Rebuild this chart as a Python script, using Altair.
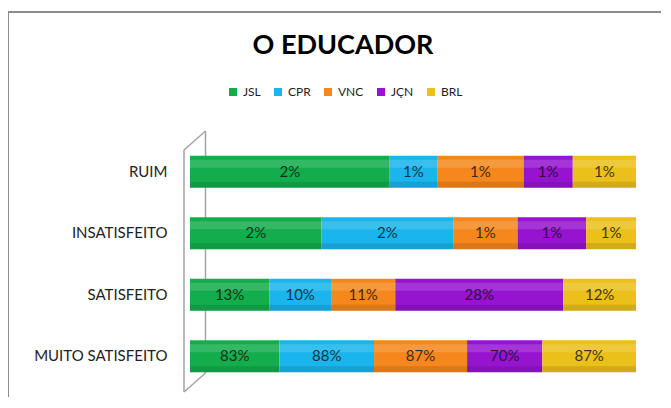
import altair as alt
import pandas as pd

categories = ["RUIM", "INSATISFEITO", "SATISFEITO", "MUITO SATISFEITO"]
series = ["JSL", "CPR", "VNC", "JÇN", "BRL"]
colors = ["#14AD4C", "#19B5EC", "#F5871D", "#9614D0", "#EBC01B"]

JSL = [2.4, 1.9, 13.2, 83.4]
CPR = [0.57, 1.9, 10.3, 88.3]
VNC = [1.04, 0.93, 10.7, 86.8]
JCN = [0.59, 0.99, 28.0, 70.2]
BRL = [0.76, 0.72, 12.1, 87.4]

values = {"JSL": JSL, "CPR": CPR, "VNC": VNC, "JÇN": JCN, "BRL": BRL}
rows = []
for si, s in enumerate(series):
    for ci, c in enumerate(categories):
        rows.append({"category": c, "series": s, "order": si, "value": values[s][ci]})
df = pd.DataFrame(rows)
one = pd.DataFrame({"k": [0]})

FONT = "Lato"

yenc = alt.Y(
    "category:N",
    sort=categories,
    scale=alt.Scale(paddingInner=0.48, paddingOuter=0.24),
    axis=alt.Axis(
        title=None, domain=False, ticks=False, labelPadding=23,
        labelFont=FONT, labelFontSize=15, labelColor="#222222",
    ),
)
xscale = alt.Scale(domain=[0, 1], nice=False)

base = alt.Chart(df).transform_stack(
    stack="value", groupby=["category"], as_=["x0", "x1"],
    offset="normalize", sort=[alt.SortField("order", order="ascending")],
).transform_calculate(
    mid="(datum.x0 + datum.x1) / 2",
    label="round(datum.value) + '%'",
)

bars = base.mark_bar().encode(
    x=alt.X("x0:Q", scale=xscale, axis=None),
    x2="x1:Q",
    y=yenc,
    color=alt.Color(
        "series:N",
        scale=alt.Scale(domain=series, range=colors),
        legend=alt.Legend(
            title=None, orient="none", direction="horizontal",
            legendX=37, legendY=-55, symbolType="square", symbolSize=64,
            labelFont=FONT, labelFontSize=12, labelColor="#222222",
            columnPadding=11, labelOffset=4, padding=0,
        ),
    ),
)

highlight = base.mark_bar(
    height=8, yOffset=-8, color="white", opacity=0.14
).encode(x=alt.X("x0:Q", scale=xscale), x2="x1:Q", y=yenc)
shadow = base.mark_bar(
    height=6, yOffset=13, color="black", opacity=0.11
).encode(x=alt.X("x0:Q", scale=xscale), x2="x1:Q", y=yenc)

labels = base.mark_text(
    font=FONT, fontSize=15, color="#111111", opacity=0.8, baseline="middle"
).encode(x=alt.X("mid:Q", scale=xscale), y=yenc, text="label:N")

wall_color = "#A3A3A3"
w1 = alt.Chart(one).mark_rule(color=wall_color, strokeWidth=1.5).encode(
    x=alt.value(-6), y=alt.value(9), y2=alt.value(251))
w2 = alt.Chart(one).mark_rule(color=wall_color, strokeWidth=1.5).encode(
    x=alt.value(15.5), y=alt.value(-10), y2=alt.value(232))
w3 = alt.Chart(one).mark_rule(color=wall_color, strokeWidth=1.5).encode(
    x=alt.value(-6), y=alt.value(9), x2=alt.value(15.5), y2=alt.value(-10))
w4 = alt.Chart(one).mark_rule(color=wall_color, strokeWidth=1.5).encode(
    x=alt.value(-6), y=alt.value(251), x2=alt.value(15.5), y2=alt.value(232))

b1 = alt.Chart(one).mark_rule(color="#8C8C8C", strokeWidth=2).encode(
    x=alt.value(-182), y=alt.value(-129), y2=alt.value(270))
b2 = alt.Chart(one).mark_rule(color="#8C8C8C", strokeWidth=2).encode(
    x=alt.value(-183), x2=alt.value(490), y=alt.value(-129))

title = alt.Chart(one).mark_text(
    text="O EDUCADOR", font=FONT, fontSize=27, fontWeight="bold",
    color="#000000", align="center", baseline="middle",
).encode(x=alt.value(153), y=alt.value(-95))

chart = alt.layer(
    b1, b2, w1, w2, w3, w4, bars, highlight, shadow, labels, title
).properties(
    width=446, height=246,
    autosize=alt.AutoSizeParams(type="none"),
    padding={"left": 182, "top": 133, "right": 25, "bottom": 10},
    background="white",
).configure_view(stroke="transparent")

chart.save("out.html", embed_options={"renderer": "svg", "actions": False})
